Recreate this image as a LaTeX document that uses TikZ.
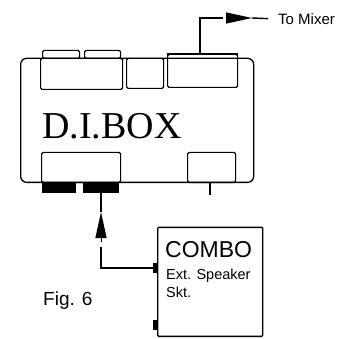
\documentclass[tikz,border=0pt]{standalone}
\usepackage{fontspec}
\setmainfont{Liberation Sans}
\newfontfamily\boxfont{Liberation Serif}
\usetikzlibrary{arrows.meta, positioning}

\begin{document}
\begin{tikzpicture}[
    x=1pt, y=1pt,
    unit/.style={rectangle, draw, line width=1.3pt, inner sep=0pt,
                 rounded corners=6pt, anchor=south west},
    jack/.style={rectangle, draw, line width=1.2pt, inner sep=0pt,
                 rounded corners=1.5pt, anchor=south west},
    plug/.style={rectangle, fill, inner sep=0pt, minimum height=10pt},
    lead/.style={line width=1.4pt},
    tip/.style={-{Triangle[length=26pt, width=11pt]}, line width=1pt},
    label/.style={anchor=base west, inner sep=0pt}
  ]
  \useasboundingbox (0,0) rectangle (343,338);

  % D.I. box with its sockets
  \node[unit, minimum width=233pt, minimum height=124pt] (dibox) at (20,155) {};
  \node[jack, minimum width=37pt, minimum height=8pt] (tabA) at (42,279) {};
  \node[jack, minimum width=36pt, minimum height=8pt] (tabB) at (84,279) {};
  \node[jack, minimum width=82pt, minimum height=31pt] (inA) at (40,248) {};
  \node[jack, minimum width=37pt, minimum height=30pt] (inB) at (126,249) {};
  \node[jack, minimum width=70pt, minimum height=33pt] (out) at (167,250) {};
  \draw[line width=2.4pt] (out.north west) -- (out.north east);
  \node[jack, minimum width=79pt, minimum height=30pt] (inC) at (41,155) {};
  \node[jack, minimum width=48pt, minimum height=30pt] (socket) at (187,155) {};
  \node[plug, minimum width=34pt] (plugA) at (59,150) {};
  \node[plug, minimum width=36pt] (plugB) at (101,150) {};
  \node[label, font=\boxfont\fontsize{38}{38}\selectfont] (title) at (42,199) {D.I.BOX};

  \coordinate (tick) at (210,143);
  \draw[line width=1.6pt] (socket.south -| tick) -- (tick);

  % output to the mixer
  \node[anchor=west, inner sep=0pt, font=\fontsize{15}{15}\selectfont] (mixer) at (278,319) {To Mixer};
  \coordinate (mixbend) at (200,320);
  \coordinate (mixgap) at (223,320);
  \coordinate (mixbase) at (226,320);
  \coordinate (mixtip) at (252,320);
  \draw[lead] (out.north -| mixbend) -- (mixbend) -- (mixgap);
  \draw[tip] (mixbase) -- (mixtip);
  \draw[lead, shorten >=10pt] (mixtip) -- (mixer.west);

  % combo amp
  \node[rectangle, draw, line width=1.4pt, inner sep=0pt, rounded corners=1pt,
        anchor=south west, minimum width=105pt, minimum height=109pt] (combo) at (157,1) {};
  \node[plug, minimum width=4pt] (knobA) at (155,70) {};
  \node[plug, minimum width=4pt] (knobB) at (155,13) {};
  \node[label, font=\fontsize{23}{23}\selectfont] (combotitle) at (165,81) {COMBO};
  \node[label, font=\fontsize{14.5}{14.5}\selectfont] (ext) at (166,59) {Ext. Speaker};
  \node[label, font=\fontsize{14.5}{14.5}\selectfont] (skt) at (166,41) {Skt.};

  % lead from the speaker socket
  \coordinate (upgap) at (101,91);
  \coordinate (upbase) at (101,96);
  \coordinate (uptip) at (101,126);
  \draw[lead] (knobA.west) -| (upgap);
  \draw[tip] (upbase) -- (uptip);
  \draw[lead] (uptip) -- (plugB.south);

  \node[label, font=\fontsize{19}{19}\selectfont] (fig) at (43,33) {Fig. 6};
\end{tikzpicture}
\end{document}
